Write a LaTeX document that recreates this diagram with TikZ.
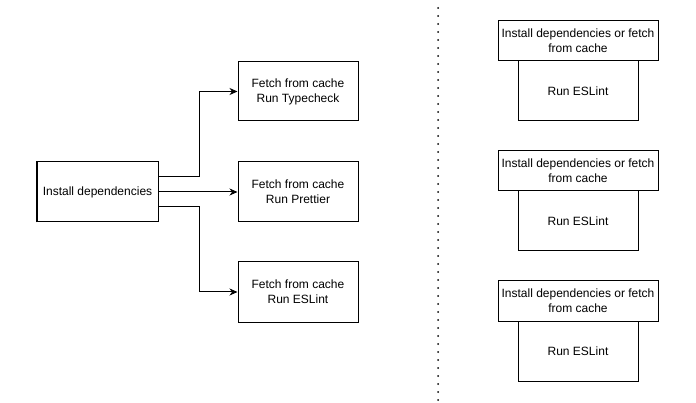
\documentclass[tikz,border=0pt]{standalone}
\usepackage{fontspec}
\setmainfont{Liberation Sans}
\usetikzlibrary{arrows.meta,positioning}
\begin{document}
\begin{tikzpicture}[x=1pt,y=-1pt,
  box/.style={draw=black,line width=1pt,fill=white,align=center,font=\fontsize{12}{15}\selectfont,inner sep=0pt},
  conn/.style={draw=black,line width=1pt,-{Stealth[length=8pt,width=7pt,inset=2.5pt]}},
  sep/.style={draw=black,line width=2pt,dash pattern=on 0pt off 8pt,line cap=round}]
\useasboundingbox (0,0) rectangle (696,403);
% left side
\node[box,minimum width=121pt,minimum height=60pt] (inst) at (97.5,192) {Install dependencies};
\draw[line width=2pt] (inst.south west) -- (inst.north west);
\node[box,minimum width=120pt,minimum height=59pt] (tc) at (298,91.5) {Fetch from cache\\Run Typecheck};
\node[box,minimum width=120pt,minimum height=60pt] (pr) at (298,192) {Fetch from cache\\Run Prettier};
\node[box,minimum width=120pt,minimum height=60pt] (es) at (298,292) {Fetch from cache\\Run ESLint};
\coordinate (s1) at (158,177);
\coordinate (s3) at (158,207);
\draw[conn] (s1) -- (199,177) |- (tc.west);
\draw[conn] (inst.east) -- (pr.west);
\draw[conn] (s3) -- (199,207) |- (es.west);
% separator
\coordinate (d1) at (438,8);
\coordinate (d2) at (438,400);
\draw[sep] (d1) -- (d2);
% right side
\node[box,minimum width=120pt,minimum height=60pt] (r1) at (578,91) {Run ESLint};
\node[box,minimum width=160pt,minimum height=40pt] (h1) at (578,41) {Install dependencies or fetch\\from cache};
\node[box,minimum width=120pt,minimum height=60pt] (r2) at (578,221) {Run ESLint};
\node[box,minimum width=160pt,minimum height=40pt] (h2) at (578,171) {Install dependencies or fetch\\from cache};
\node[box,minimum width=120pt,minimum height=60pt] (r3) at (578,351) {Run ESLint};
\node[box,minimum width=160pt,minimum height=40pt] (h3) at (578,301) {Install dependencies or fetch\\from cache};
\end{tikzpicture}
\end{document}
